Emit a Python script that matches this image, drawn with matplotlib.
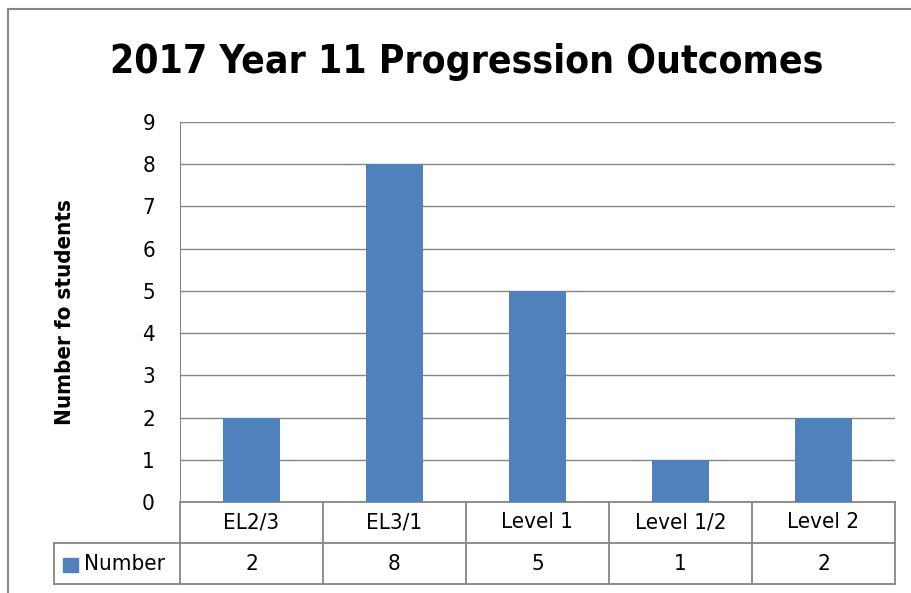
import matplotlib
matplotlib.use("Agg")
import matplotlib.pyplot as plt
from matplotlib.patches import Rectangle
from matplotlib.lines import Line2D

categories = ["EL2/3", "EL3/1", "Level 1", "Level 1/2", "Level 2"]
numbers = [2, 8, 5, 1, 2]
series_name = "Number"
title = "2017 Year 11 Progression Outcomes"
y_label = "Number fo students"

BAR = "#4F81BD"
GRID = "#868686"

plt.rcParams["font.family"] = ["DejaVu Sans"]
plt.rcParams["font.stretch"] = "condensed"

W, H = 912, 593
fig = plt.figure(figsize=(W / 100, H / 100), dpi=100)

# axes placement in pixels
left, right, top, bottom = 180, 895, 122, 502
ax = fig.add_axes([left / W, 1 - bottom / H, (right - left) / W, (bottom - top) / H])

x = list(range(len(categories)))
ax.bar(x, numbers, width=0.4, color=BAR, zorder=3)
ax.set_xlim(-0.5, len(categories) - 0.5)
ax.set_ylim(0, 9)
ax.set_yticks(range(0, 10))
ax.yaxis.grid(True, color=GRID, linewidth=1, zorder=0)
ax.tick_params(axis="y", length=0, labelsize=16, pad=18)
ax.set_xticks([])
for side in ["top", "right", "bottom"]:
    ax.spines[side].set_visible(False)
ax.spines["left"].set_color(GRID)

ax.set_ylabel(y_label, fontsize=16, fontweight="bold", labelpad=48)

fig.text(467 / W, 1 - 62 / H, title, ha="center", va="center",
         fontsize=28, fontweight="bold")

# data table below the axes
tr = ax.transAxes
axw = right - left
axh = bottom - top
row1 = -(543 - bottom) / axh
row2 = -(584 - bottom) / axh
leg_left = (54 - left) / axw

def line(xs, ys):
    ax.add_line(Line2D(xs, ys, transform=tr, color=GRID, lw=1.3, clip_on=False))

line([0, 1], [0, 0])
line([leg_left, 1], [row1, row1])
line([leg_left, 1], [row2, row2])
line([leg_left, leg_left], [row1, row2])
n = len(categories)
for i in range(n + 1):
    line([i / n, i / n], [0, row2])
for i, (c, v) in enumerate(zip(categories, numbers)):
    cx = (i + 0.5) / n
    ax.text(cx, row1 / 2, c, transform=tr, ha="center", va="center", fontsize=16)
    ax.text(cx, (row1 + row2) / 2, str(v), transform=tr, ha="center", va="center", fontsize=16)

# legend key in the table
ax.add_patch(Rectangle(((63 - left) / axw, -(572 - bottom) / axh), 15 / axw, 14 / axh,
                       transform=tr, color=BAR, clip_on=False))
ax.text((84 - left) / axw, (row1 + row2) / 2, series_name, transform=tr,
        ha="left", va="center", fontsize=16)

# chart border
fig.add_artist(Rectangle((8 / W, -0.1), 1.2, 1 - 9 / H + 0.1, transform=fig.transFigure,
                         fill=False, edgecolor=GRID, lw=1.5))

fig.savefig("out.png", dpi=100)
